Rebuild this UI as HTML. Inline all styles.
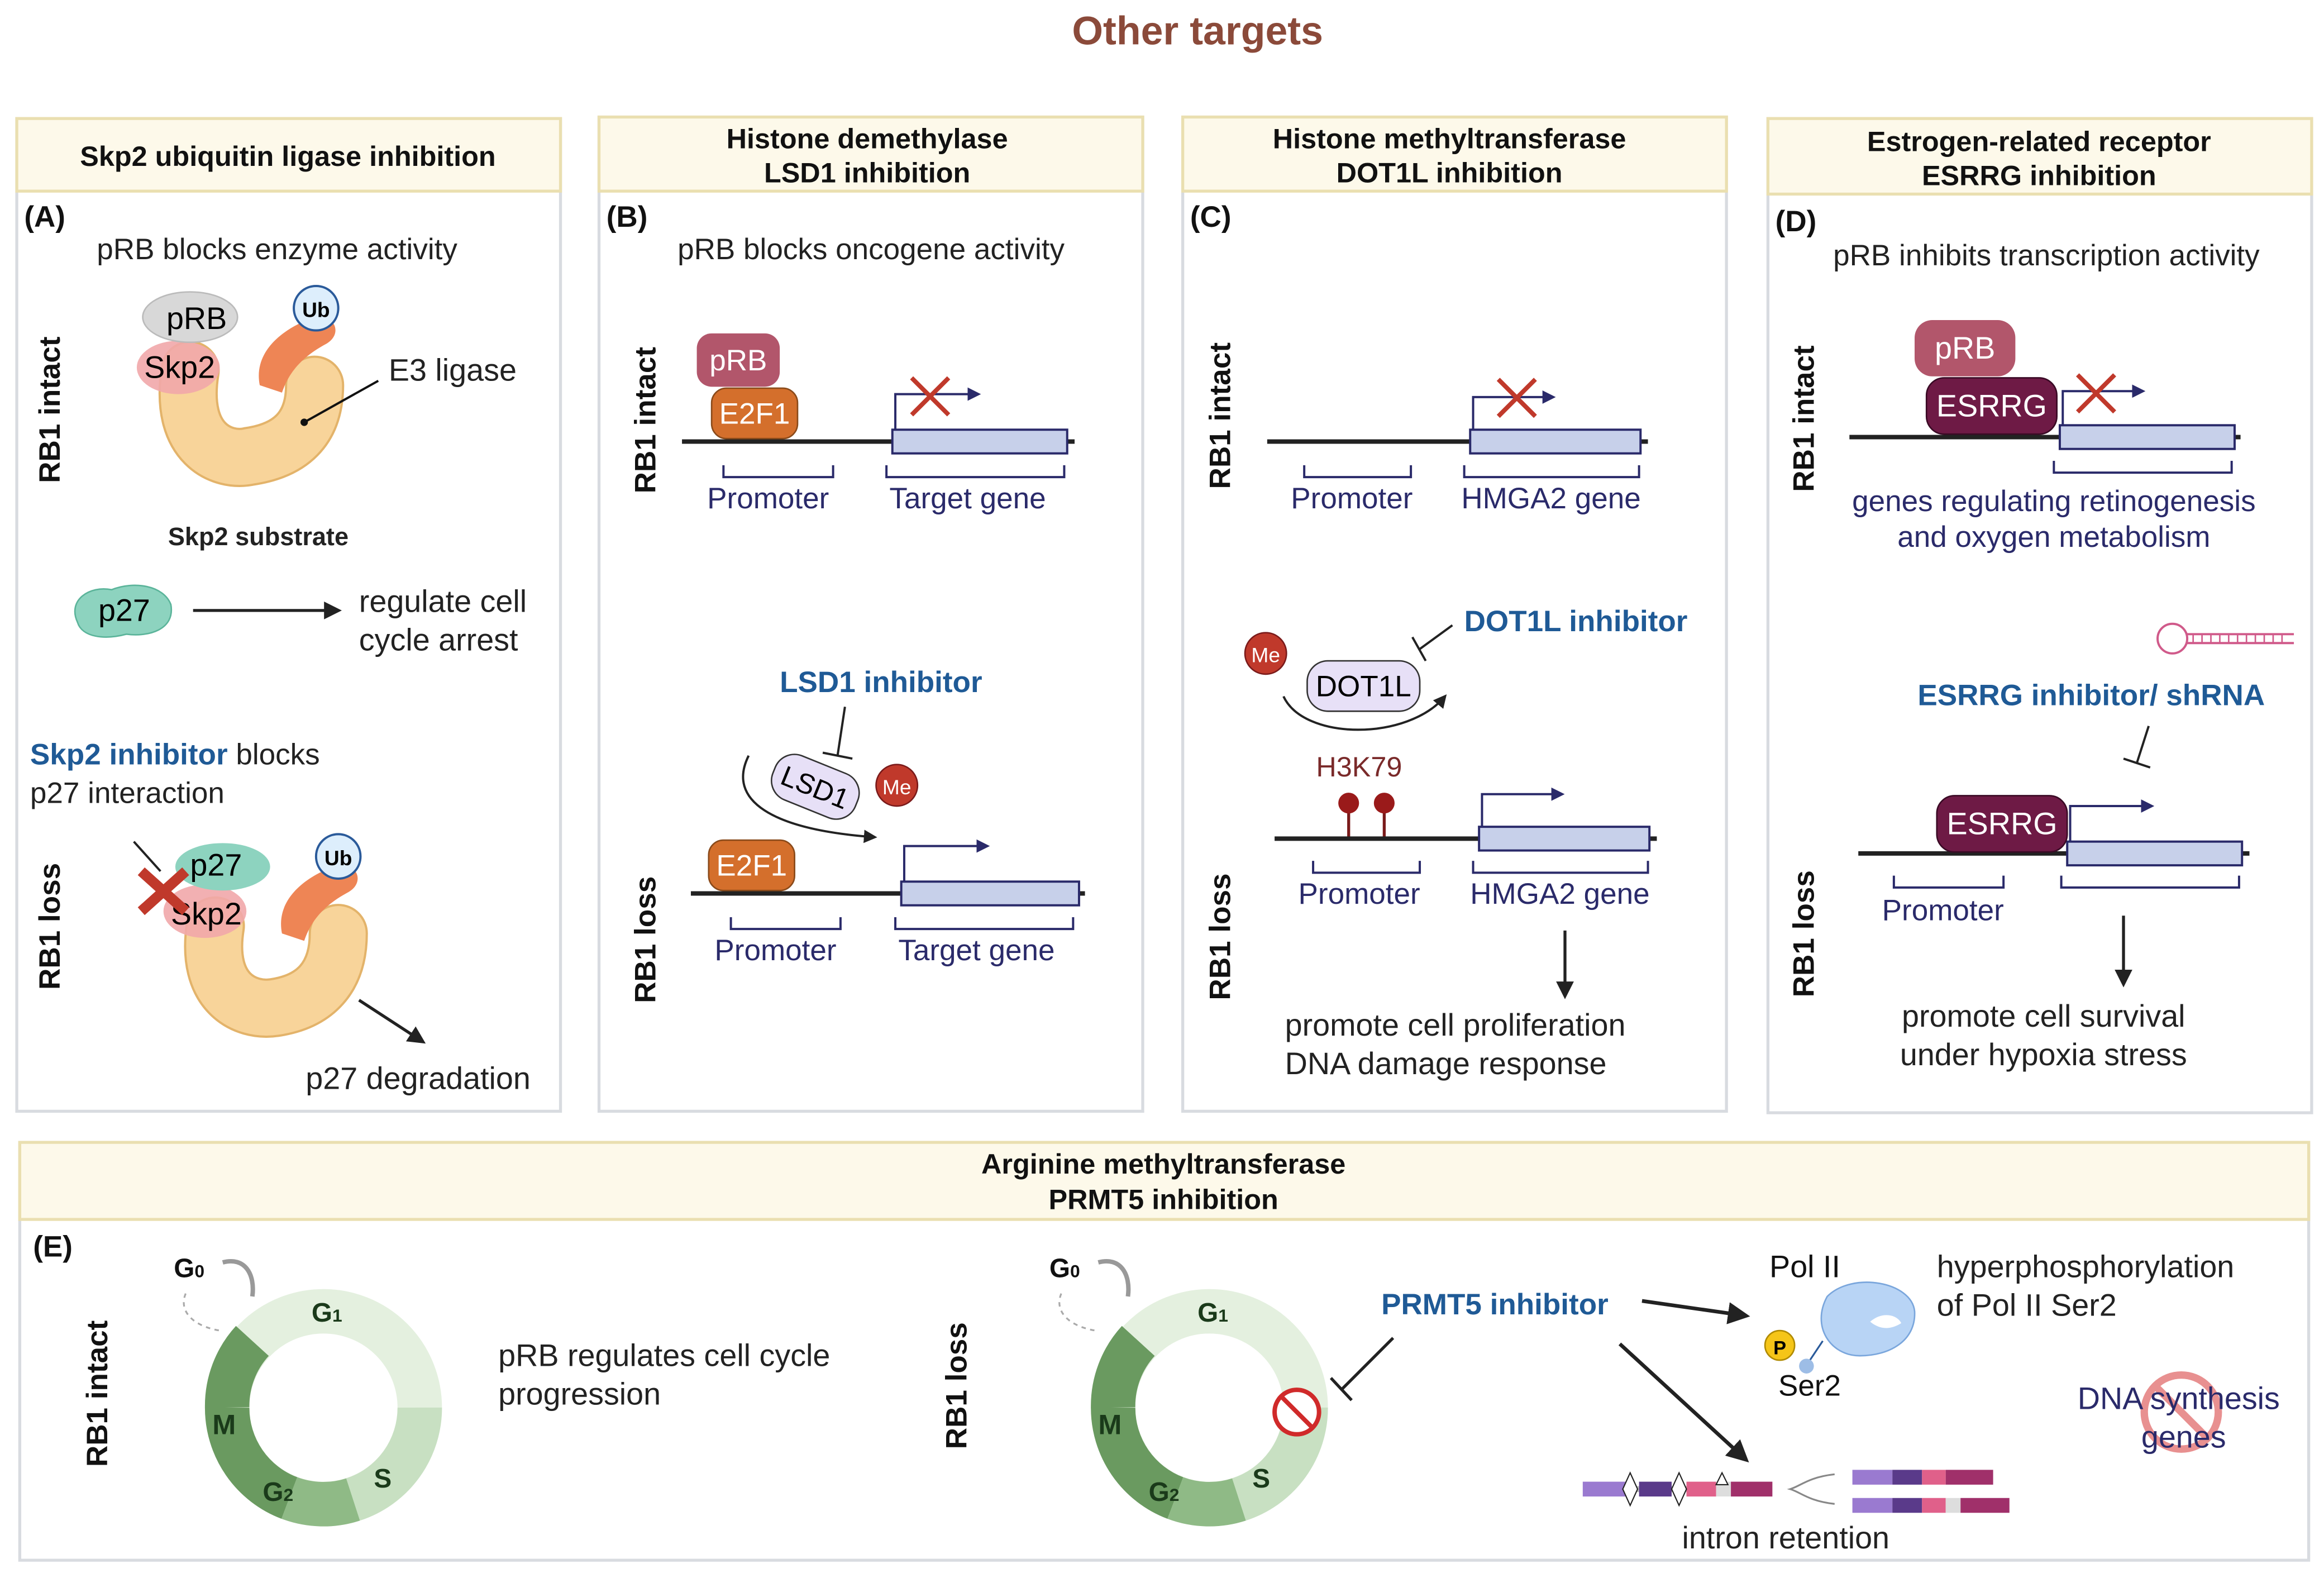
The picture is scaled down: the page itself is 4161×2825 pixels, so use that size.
<!DOCTYPE html>
<html><head><meta charset="utf-8"><style>
html,body{margin:0;padding:0;background:#fff}
svg{display:block}
text{font-family:"Liberation Sans",sans-serif}
.h{font-weight:bold;font-size:19px;fill:#111;text-anchor:middle}
.t{font-size:20px;fill:#222}
.n{font-size:20px;fill:#2a2a6a}
.b{font-weight:bold;font-size:20px;fill:#1f5a96}
.v{font-weight:bold;font-size:20px;fill:#111}
.lab{font-weight:bold;font-size:20px;fill:#111}
</style></head><body>
<svg width="4161" height="2825" viewBox="0 0 1568 1065" xmlns="http://www.w3.org/2000/svg">
<defs>
<marker id="ar" viewBox="0 0 10 10" refX="8" refY="5" markerWidth="6" markerHeight="6" orient="auto"><path d="M0,0L10,5L0,10z" fill="#222"/></marker>
<marker id="an" viewBox="0 0 10 10" refX="8" refY="5" markerWidth="6" markerHeight="6" orient="auto"><path d="M0,0L10,5L0,10z" fill="#2a2a6a"/></marker>
</defs>
<text x="808" y="30" text-anchor="middle" style="font-weight:bold;font-size:27px;fill:#8b4a3a">Other targets</text>

<g fill="none" stroke="#d8dbe0" stroke-width="2">
<rect x="11" y="80" width="367" height="670"/>
<rect x="404" y="79" width="367" height="671"/>
<rect x="798" y="79" width="367" height="671"/>
<rect x="1193" y="80" width="367" height="671"/>
<rect x="13" y="771" width="1545" height="282"/>
</g>
<g fill="#fdf9ea" stroke="#eadfb0" stroke-width="2">
<rect x="11" y="80" width="367" height="49"/>
<rect x="404" y="79" width="367" height="50"/>
<rect x="798" y="79" width="367" height="50"/>
<rect x="1193" y="80" width="367" height="51"/>
<rect x="13" y="771" width="1545" height="52"/>
</g>
<text class="h" x="194" y="112">Skp2 ubiquitin ligase inhibition</text>
<text class="h" x="585" y="100">Histone demethylase</text><text class="h" x="585" y="123">LSD1 inhibition</text>
<text class="h" x="978" y="100">Histone methyltransferase</text><text class="h" x="978" y="123">DOT1L inhibition</text>
<text class="h" x="1376" y="102">Estrogen-related receptor</text><text class="h" x="1376" y="125">ESRRG inhibition</text>
<text class="h" x="785" y="792">Arginine methyltransferase</text><text class="h" x="785" y="816">PRMT5 inhibition</text>

<!-- (A) -->
<text class="lab" x="16" y="153">(A)</text>
<text class="t" x="65" y="175">pRB blocks enzyme activity</text>
<text class="v" transform="translate(40,326) rotate(-90)">RB1 intact</text>
<path d="M128,250 C120,300 150,312 168,308 C195,304 212,290 212,260" fill="none" stroke="#e3b36a" stroke-width="40" stroke-linecap="round"/>
<path d="M128,250 C120,300 150,312 168,308 C195,304 212,290 212,260" fill="none" stroke="#f8d49a" stroke-width="37" stroke-linecap="round"/>
<path d="M175,260 C170,235 195,220 210,215 C225,210 232,225 220,232 C205,240 195,250 190,265z" fill="#ee8555"/>
<ellipse cx="120" cy="248" rx="28" ry="18" fill="#f1a7aa" opacity=".9"/>
<ellipse cx="128" cy="214" rx="32" ry="17" fill="#d8d8d8" stroke="#bbb"/>
<text x="112" y="222" style="font-size:21px">pRB</text>
<text x="97" y="255" style="font-size:21px">Skp2</text>
<circle cx="213" cy="208" r="15" fill="#ddeefc" stroke="#2a5a9a" stroke-width="1.5"/>
<text x="213" y="214" text-anchor="middle" style="font-weight:bold;font-size:14px">Ub</text>
<line x1="205" y1="285" x2="255" y2="257" stroke="#111" stroke-width="1.5"/>
<circle cx="205" cy="285" r="2.5" fill="#111"/>
<text class="t" x="262" y="257" style="font-size:21px">E3 ligase</text>
<text x="174" y="368" text-anchor="middle" style="font-weight:bold;font-size:17px;fill:#222">Skp2 substrate</text>
<path d="M52,420 C45,405 60,395 75,398 C90,392 110,395 115,408 C118,425 100,430 85,428 C70,432 55,430 52,420z" fill="#8dd3bf" stroke="#5bb49a"/>
<text x="66" y="419" style="font-size:21px">p27</text>
<line x1="130" y1="412" x2="228" y2="412" stroke="#222" stroke-width="2" marker-end="url(#ar)"/>
<text class="t" x="242" y="413" style="font-size:21px">regulate cell</text>
<text class="t" x="242" y="439" style="font-size:21px">cycle arrest</text>
<text class="b" x="20" y="516">Skp2 inhibitor<tspan style="fill:#222;font-weight:normal"> blocks</tspan></text>
<text class="t" x="20" y="542">p27 interaction</text>
<line x1="90" y1="568" x2="108" y2="588" stroke="#222" stroke-width="1.5"/>
<text class="v" transform="translate(40,668) rotate(-90)">RB1 loss</text>
<path d="M145,625 C138,670 165,683 185,680 C212,676 228,660 228,630" fill="none" stroke="#e3b36a" stroke-width="40" stroke-linecap="round"/>
<path d="M145,625 C138,670 165,683 185,680 C212,676 228,660 228,630" fill="none" stroke="#f8d49a" stroke-width="37" stroke-linecap="round"/>
<path d="M190,630 C185,605 210,590 225,585 C240,580 247,595 235,602 C220,610 210,620 205,635z" fill="#ee8555"/>
<ellipse cx="138" cy="615" rx="28" ry="18" fill="#f1a7aa" opacity=".9"/>
<ellipse cx="150" cy="585" rx="32" ry="16" fill="#8dd3bf"/>
<text x="128" y="591" style="font-size:21px">p27</text>
<text x="115" y="624" style="font-size:21px">Skp2</text>
<path d="M95,588 L125,615 M125,588 L95,615" stroke="#c0392b" stroke-width="7"/>
<circle cx="228" cy="578" r="15" fill="#ddeefc" stroke="#2a5a9a" stroke-width="1.5"/>
<text x="228" y="584" text-anchor="middle" style="font-weight:bold;font-size:14px">Ub</text>
<line x1="242" y1="675" x2="285" y2="703" stroke="#222" stroke-width="2" marker-end="url(#ar)"/>
<text class="t" x="206" y="735" style="font-size:21px">p27 degradation</text>

<!-- (B) -->
<text class="lab" x="409" y="153">(B)</text>
<text class="t" x="457" y="175">pRB blocks oncogene activity</text>
<text class="v" transform="translate(442,333) rotate(-90)">RB1 intact</text>
<line x1="460" y1="298" x2="725" y2="298" stroke="#222" stroke-width="3"/>
<rect x="602" y="290" width="118" height="16" fill="#c7d0ea" stroke="#2a2a6a" stroke-width="1.5"/>
<path d="M604,290 V266 H660" fill="none" stroke="#2a2a6a" stroke-width="1.5" marker-end="url(#an)"/>
<path d="M615,255 L640,280 M640,255 L615,280" stroke="#c0392b" stroke-width="3"/>
<rect x="470" y="225" width="56" height="36" rx="10" fill="#b2566b"/>
<text x="498" y="250" text-anchor="middle" style="font-size:20px;fill:#fff">pRB</text>
<rect x="480" y="262" width="58" height="34" rx="10" fill="#d46f2c" stroke="#8a4a1a"/>
<text x="509" y="286" text-anchor="middle" style="font-size:20px;fill:#fff">E2F1</text>
<path d="M488,314 v8 h74 v-8 M598,314 v8 h120 v-8" fill="none" stroke="#2a2a6a" stroke-width="1.5"/>
<text class="n" x="477" y="343">Promoter</text><text class="n" x="600" y="343">Target gene</text>
<text class="b" x="526" y="467">LSD1 inhibitor</text>
<path d="M570,477 L565,510 M555,508 L575,512" stroke="#222" stroke-width="1.5" fill="none"/>
<path d="M505,510 C490,540 520,560 590,565" fill="none" stroke="#222" stroke-width="1.5" marker-end="url(#ar)"/>
<rect x="520" y="515" width="60" height="32" rx="14" fill="#e7e0f7" stroke="#333" transform="rotate(22 550 531)"/>
<text x="550" y="538" text-anchor="middle" transform="rotate(22 550 531)" style="font-size:19px">LSD1</text>
<circle cx="605" cy="530" r="14" fill="#c0392b" stroke="#7a1a1a"/>
<text x="605" y="536" text-anchor="middle" style="font-size:14px;fill:#fff">Me</text>
<text class="v" transform="translate(442,677) rotate(-90)">RB1 loss</text>
<line x1="466" y1="603" x2="732" y2="603" stroke="#222" stroke-width="3"/>
<rect x="608" y="595" width="120" height="16" fill="#c7d0ea" stroke="#2a2a6a" stroke-width="1.5"/>
<path d="M610,595 V571 H666" fill="none" stroke="#2a2a6a" stroke-width="1.5" marker-end="url(#an)"/>
<rect x="478" y="567" width="58" height="34" rx="10" fill="#d46f2c" stroke="#8a4a1a"/>
<text x="507" y="591" text-anchor="middle" style="font-size:20px;fill:#fff">E2F1</text>
<path d="M493,619 v8 h74 v-8 M604,619 v8 h120 v-8" fill="none" stroke="#2a2a6a" stroke-width="1.5"/>
<text class="n" x="482" y="648">Promoter</text><text class="n" x="606" y="648">Target gene</text>

<!-- (C) -->
<text class="lab" x="803" y="153">(C)</text>
<text class="v" transform="translate(830,330) rotate(-90)">RB1 intact</text>
<line x1="855" y1="298" x2="1112" y2="298" stroke="#222" stroke-width="3"/>
<rect x="992" y="290" width="115" height="16" fill="#c7d0ea" stroke="#2a2a6a" stroke-width="1.5"/>
<path d="M994,290 V268 H1048" fill="none" stroke="#2a2a6a" stroke-width="1.5" marker-end="url(#an)"/>
<path d="M1011,256 L1036,281 M1036,256 L1011,281" stroke="#c0392b" stroke-width="3"/>
<path d="M880,314 v8 h72 v-8 M988,314 v8 h118 v-8" fill="none" stroke="#2a2a6a" stroke-width="1.5"/>
<text class="n" x="871" y="343">Promoter</text><text class="n" x="986" y="343">HMGA2 gene</text>
<text class="b" x="988" y="426">DOT1L inhibitor</text>
<path d="M980,422 L958,438 M953,430 L962,446" stroke="#222" stroke-width="1.5" fill="none"/>
<circle cx="854" cy="441" r="14" fill="#c0392b" stroke="#7a1a1a"/>
<text x="854" y="447" text-anchor="middle" style="font-size:14px;fill:#fff">Me</text>
<path d="M866,470 C880,500 950,500 975,470" fill="none" stroke="#222" stroke-width="1.5" marker-end="url(#ar)"/>
<rect x="882" y="446" width="76" height="34" rx="14" fill="#e7e0f7" stroke="#333"/>
<text x="920" y="470" text-anchor="middle" style="font-size:20px">DOT1L</text>
<text x="888" y="524" style="font-size:19px;fill:#7a2a2a">H3K79</text>
<path d="M910,566 V545 M934,566 V545" stroke="#7a1a1a" stroke-width="2"/>
<circle cx="910" cy="542" r="7" fill="#9a1a1a"/><circle cx="934" cy="542" r="7" fill="#9a1a1a"/>
<line x1="860" y1="566" x2="1118" y2="566" stroke="#222" stroke-width="3"/>
<rect x="998" y="558" width="115" height="16" fill="#c7d0ea" stroke="#2a2a6a" stroke-width="1.5"/>
<path d="M1000,558 V536 H1054" fill="none" stroke="#2a2a6a" stroke-width="1.5" marker-end="url(#an)"/>
<path d="M886,581 v8 h72 v-8 M994,581 v8 h118 v-8" fill="none" stroke="#2a2a6a" stroke-width="1.5"/>
<text class="n" x="876" y="610">Promoter</text><text class="n" x="992" y="610">HMGA2 gene</text>
<text class="v" transform="translate(830,675) rotate(-90)">RB1 loss</text>
<line x1="1056" y1="628" x2="1056" y2="672" stroke="#222" stroke-width="2" marker-end="url(#ar)"/>
<text class="t" x="867" y="699" style="font-size:21px">promote cell proliferation</text>
<text class="t" x="867" y="725" style="font-size:21px">DNA damage response</text>

<!-- (D) -->
<text class="lab" x="1198" y="156">(D)</text>
<text class="t" x="1237" y="179">pRB inhibits transcription activity</text>
<text class="v" transform="translate(1224,332) rotate(-90)">RB1 intact</text>
<line x1="1248" y1="295" x2="1512" y2="295" stroke="#222" stroke-width="3"/>
<rect x="1390" y="287" width="118" height="16" fill="#c7d0ea" stroke="#2a2a6a" stroke-width="1.5"/>
<path d="M1392,287 V264 H1446" fill="none" stroke="#2a2a6a" stroke-width="1.5" marker-end="url(#an)"/>
<path d="M1402,253 L1427,278 M1427,253 L1402,278" stroke="#c0392b" stroke-width="3"/>
<rect x="1292" y="216" width="68" height="38" rx="12" fill="#b2566b"/>
<text x="1326" y="242" text-anchor="middle" style="font-size:21px;fill:#fff">pRB</text>
<rect x="1300" y="255" width="88" height="38" rx="12" fill="#6e1a45" stroke="#3a0a25"/>
<text x="1344" y="281" text-anchor="middle" style="font-size:21px;fill:#fff">ESRRG</text>
<path d="M1386,311 v8 h120 v-8" fill="none" stroke="#2a2a6a" stroke-width="1.5"/>
<text class="n" x="1386" y="345" text-anchor="middle">genes regulating retinogenesis</text>
<text class="n" x="1386" y="369" text-anchor="middle">and oxygen metabolism</text>
<circle cx="1466" cy="431" r="10" fill="none" stroke="#d05a8a" stroke-width="1.5"/>
<path d="M1476,428 H1548 M1476,434 H1548" stroke="#d05a8a" stroke-width="1.5"/>
<path d="M1480,428 v6 M1486,428 v6 M1492,428 v6 M1498,428 v6 M1504,428 v6 M1510,428 v6 M1516,428 v6 M1522,428 v6 M1528,428 v6 M1534,428 v6 M1540,428 v6" stroke="#d05a8a" stroke-width="1"/>
<text class="b" x="1294" y="476">ESRRG inhibitor/ shRNA</text>
<path d="M1450,490 L1442,515 M1433,512 L1451,518" stroke="#222" stroke-width="1.5" fill="none"/>
<text class="v" transform="translate(1224,673) rotate(-90)">RB1 loss</text>
<line x1="1254" y1="576" x2="1518" y2="576" stroke="#222" stroke-width="3"/>
<rect x="1395" y="568" width="118" height="16" fill="#c7d0ea" stroke="#2a2a6a" stroke-width="1.5"/>
<path d="M1397,568 V544 H1452" fill="none" stroke="#2a2a6a" stroke-width="1.5" marker-end="url(#an)"/>
<rect x="1307" y="537" width="88" height="38" rx="12" fill="#6e1a45" stroke="#3a0a25"/>
<text x="1351" y="563" text-anchor="middle" style="font-size:21px;fill:#fff">ESRRG</text>
<path d="M1278,591 v8 h74 v-8 M1391,591 v8 h120 v-8" fill="none" stroke="#2a2a6a" stroke-width="1.5"/>
<text class="n" x="1270" y="621">Promoter</text>
<line x1="1433" y1="618" x2="1433" y2="664" stroke="#222" stroke-width="2" marker-end="url(#ar)"/>
<text class="t" x="1379" y="693" text-anchor="middle" style="font-size:21px">promote cell survival</text>
<text class="t" x="1379" y="719" text-anchor="middle" style="font-size:21px">under hypoxia stress</text>

<!-- (E) -->
<text class="lab" x="22" y="848">(E)</text>
<text class="v" transform="translate(72,990) rotate(-90)">RB1 intact</text>
<g>
<circle cx="218" cy="950" r="65" fill="none" stroke="#e4f0df" stroke-width="30"/>
<path d="M153,950 A65,65 0 0,1 170,905" fill="none" stroke="#6a9a60" stroke-width="30"/>
<path d="M153,950 A65,65 0 0,0 195,1011" fill="none" stroke="#6a9a60" stroke-width="30"/>
<path d="M195,1011 A65,65 0 0,0 238,1012" fill="none" stroke="#8fba86" stroke-width="30"/>
<path d="M238,1012 A65,65 0 0,0 283,950" fill="none" stroke="#c8e0c2" stroke-width="30"/>
<text x="143" y="968" style="font-weight:bold;font-size:19px;fill:#1a3a1a">M</text>
<text x="177" y="1013" style="font-weight:bold;font-size:18px;fill:#1a3a1a">G<tspan font-size="12">2</tspan></text>
<text x="252" y="1004" style="font-weight:bold;font-size:18px;fill:#1a3a1a">S</text>
<text x="210" y="892" style="font-weight:bold;font-size:18px;fill:#1a3a1a">G<tspan font-size="12">1</tspan></text>
<text x="117" y="862" style="font-weight:bold;font-size:18px;fill:#111">G<tspan font-size="12">0</tspan></text>
<path d="M150,852 C165,848 172,860 170,875" fill="none" stroke="#999" stroke-width="3"/>
<path d="M125,873 C120,885 130,895 148,898" fill="none" stroke="#aaa" stroke-width="1.2" stroke-dasharray="3,3"/>
</g>
<text class="t" x="336" y="922" style="font-size:21px">pRB regulates cell cycle</text>
<text class="t" x="336" y="948" style="font-size:21px">progression</text>
<text class="v" transform="translate(652,978) rotate(-90)">RB1 loss</text>
<g transform="translate(598,0)">
<circle cx="218" cy="950" r="65" fill="none" stroke="#e4f0df" stroke-width="30"/>
<path d="M153,950 A65,65 0 0,1 170,905" fill="none" stroke="#6a9a60" stroke-width="30"/>
<path d="M153,950 A65,65 0 0,0 195,1011" fill="none" stroke="#6a9a60" stroke-width="30"/>
<path d="M195,1011 A65,65 0 0,0 238,1012" fill="none" stroke="#8fba86" stroke-width="30"/>
<path d="M238,1012 A65,65 0 0,0 283,950" fill="none" stroke="#c8e0c2" stroke-width="30"/>
<text x="143" y="968" style="font-weight:bold;font-size:19px;fill:#1a3a1a">M</text>
<text x="177" y="1013" style="font-weight:bold;font-size:18px;fill:#1a3a1a">G<tspan font-size="12">2</tspan></text>
<text x="247" y="1004" style="font-weight:bold;font-size:18px;fill:#1a3a1a">S</text>
<text x="210" y="892" style="font-weight:bold;font-size:18px;fill:#1a3a1a">G<tspan font-size="12">1</tspan></text>
<text x="110" y="862" style="font-weight:bold;font-size:18px;fill:#111">G<tspan font-size="12">0</tspan></text>
<path d="M143,852 C158,848 165,860 163,875" fill="none" stroke="#999" stroke-width="3"/>
<path d="M118,873 C113,885 123,895 141,898" fill="none" stroke="#aaa" stroke-width="1.2" stroke-dasharray="3,3"/>
</g>
<circle cx="875" cy="953" r="15" fill="#fff" stroke="#d02a2a" stroke-width="3"/>
<line x1="865" y1="943" x2="885" y2="963" stroke="#d02a2a" stroke-width="3"/>
<path d="M940,903 L905,938 M898,930 L912,945" stroke="#222" stroke-width="2" fill="none"/>
<text class="b" x="932" y="887">PRMT5 inhibitor</text>
<line x1="1108" y1="878" x2="1178" y2="888" stroke="#222" stroke-width="2.5" marker-end="url(#ar)"/>
<line x1="1093" y1="907" x2="1178" y2="985" stroke="#222" stroke-width="2.5" marker-end="url(#ar)"/>
<text class="t" x="1194" y="862" style="font-size:21px;fill:#111">Pol II</text>
<path d="M1233,875 C1250,858 1290,865 1292,885 C1293,905 1275,915 1255,915 C1235,915 1222,895 1233,875z" fill="#b8d4f5" stroke="#7aa6dc"/>
<path d="M1262,892 C1270,885 1280,887 1283,893 C1275,898 1268,897 1262,892z" fill="#fff"/>
<path d="M1230,905 L1220,920" stroke="#2a5a9a" stroke-width="1.2"/>
<circle cx="1219" cy="922" r="5" fill="#9dbde6"/>
<circle cx="1201" cy="908" r="10" fill="#f5c518" stroke="#b08a00"/>
<text x="1201" y="914" text-anchor="middle" style="font-weight:bold;font-size:13px">P</text>
<text class="t" x="1200" y="942" style="font-size:20px;fill:#111">Ser2</text>
<text class="t" x="1307" y="862" style="font-size:21px">hyperphosphorylation</text>
<text class="t" x="1307" y="888" style="font-size:21px">of Pol II Ser2</text>
<circle cx="1472" cy="953" r="25" fill="none" stroke="#e89090" stroke-width="5"/>
<line x1="1455" y1="936" x2="1489" y2="970" stroke="#e89090" stroke-width="5"/>
<text class="n" x="1402" y="951" style="font-size:21px">DNA synthesis</text>
<text class="n" x="1445" y="977" style="font-size:21px">genes</text>
<g>
<rect x="1068" y="1000" width="32" height="10" fill="#9a7ad0"/>
<rect x="1100" y="1003" width="8" height="4" fill="#bbb"/>
<rect x="1106" y="1000" width="22" height="10" fill="#5a3a8a"/>
<rect x="1128" y="1003" width="10" height="4" fill="#bbb"/>
<rect x="1138" y="1000" width="20" height="10" fill="#e0608a"/>
<rect x="1158" y="1000" width="10" height="10" fill="#ddd"/>
<rect x="1168" y="1000" width="28" height="10" fill="#a0306a"/>
<path d="M1100,994 l-5,11 5,11 5,-11z M1133,994 l-5,11 5,11 5,-11z M1162,994 l-4,8 8,0z" fill="#fff" stroke="#222" stroke-width=".8"/>
<path d="M1238,995 C1220,997 1215,1003 1208,1005 C1215,1007 1220,1013 1238,1015" fill="none" stroke="#888" stroke-width="1.2"/>
<rect x="1250" y="992" width="27" height="10" fill="#9a7ad0"/><rect x="1277" y="992" width="20" height="10" fill="#5a3a8a"/><rect x="1297" y="992" width="16" height="10" fill="#e0608a"/><rect x="1313" y="992" width="32" height="10" fill="#a0306a"/>
<rect x="1250" y="1011" width="27" height="10" fill="#9a7ad0"/><rect x="1277" y="1011" width="20" height="10" fill="#5a3a8a"/><rect x="1297" y="1011" width="16" height="10" fill="#e0608a"/><rect x="1313" y="1011" width="10" height="10" fill="#ddd"/><rect x="1323" y="1011" width="33" height="10" fill="#a0306a"/>
</g>
<text class="t" x="1135" y="1045" style="font-size:21px">intron retention</text>
</svg>
</body></html>
